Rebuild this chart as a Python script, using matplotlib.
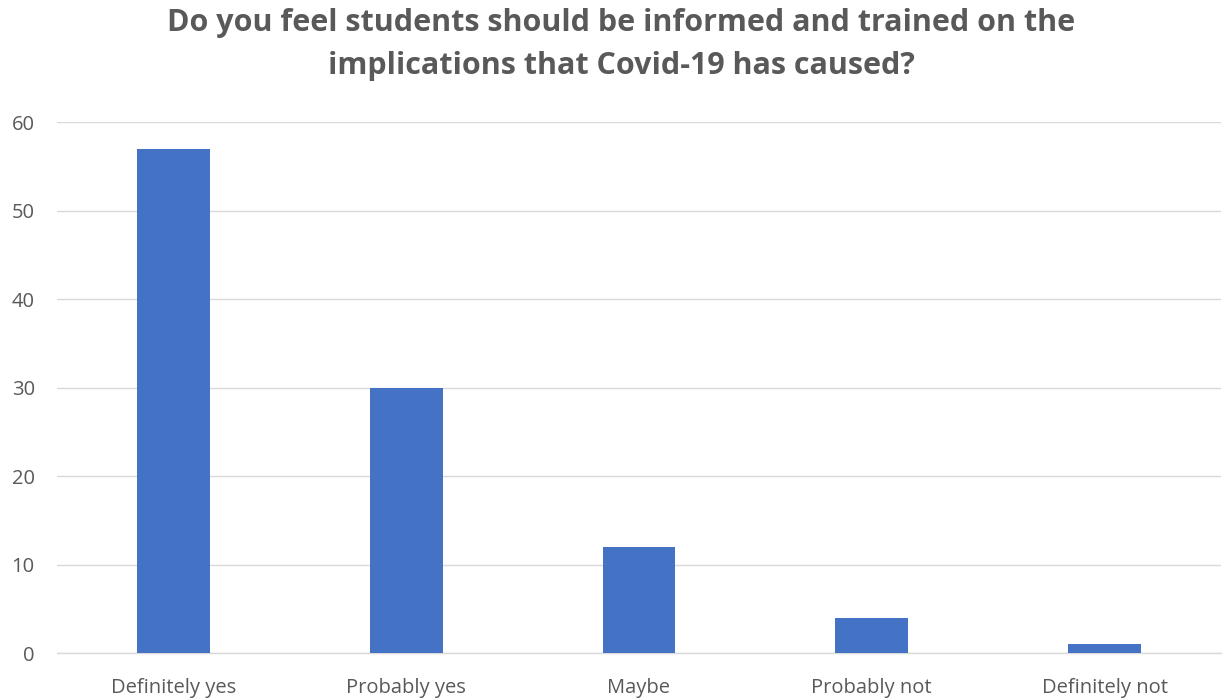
import matplotlib.pyplot as plt

categories = ["Definitely yes", "Probably yes", "Maybe", "Probably not", "Definitely not"]
counts = [57, 30, 12, 4, 1]
y_ticks = [0, 10, 20, 30, 40, 50, 60]

plt.rcParams['font.family'] = ['Open Sans', 'DejaVu Sans']

fig = plt.figure(figsize=(12.28, 7), dpi=100)
ax = fig.add_axes([0.0464, 0.0671, 0.9479, 0.7586])

ax.bar(range(len(categories)), counts, width=0.313, color="#4472c4", zorder=3)
ax.set_xlim(-0.5, len(categories) - 0.5)
ax.set_ylim(0, 60)
ax.set_yticks(y_ticks)
ax.set_xticks(range(len(categories)))
ax.set_xticklabels(categories)

ax.grid(axis="y", color="#d9d9d9", linewidth=1, zorder=0)
for s in ["top", "right", "left"]:
    ax.spines[s].set_visible(False)
ax.spines["bottom"].set_color("#d9d9d9")
ax.spines["bottom"].set_linewidth(1)
ax.tick_params(axis="both", length=0, colors="#595959", labelsize=14.5)
ax.tick_params(axis="y", pad=16)
ax.tick_params(axis="x", pad=18)

fig.text(0.506, 0.936, "Do you feel students should be informed and trained on the\nimplications that Covid-19 has caused?",
         ha="center", va="center", fontsize=22, fontweight="bold", color="#595959", linespacing=1.55)

fig.savefig("out.png", dpi=100)
